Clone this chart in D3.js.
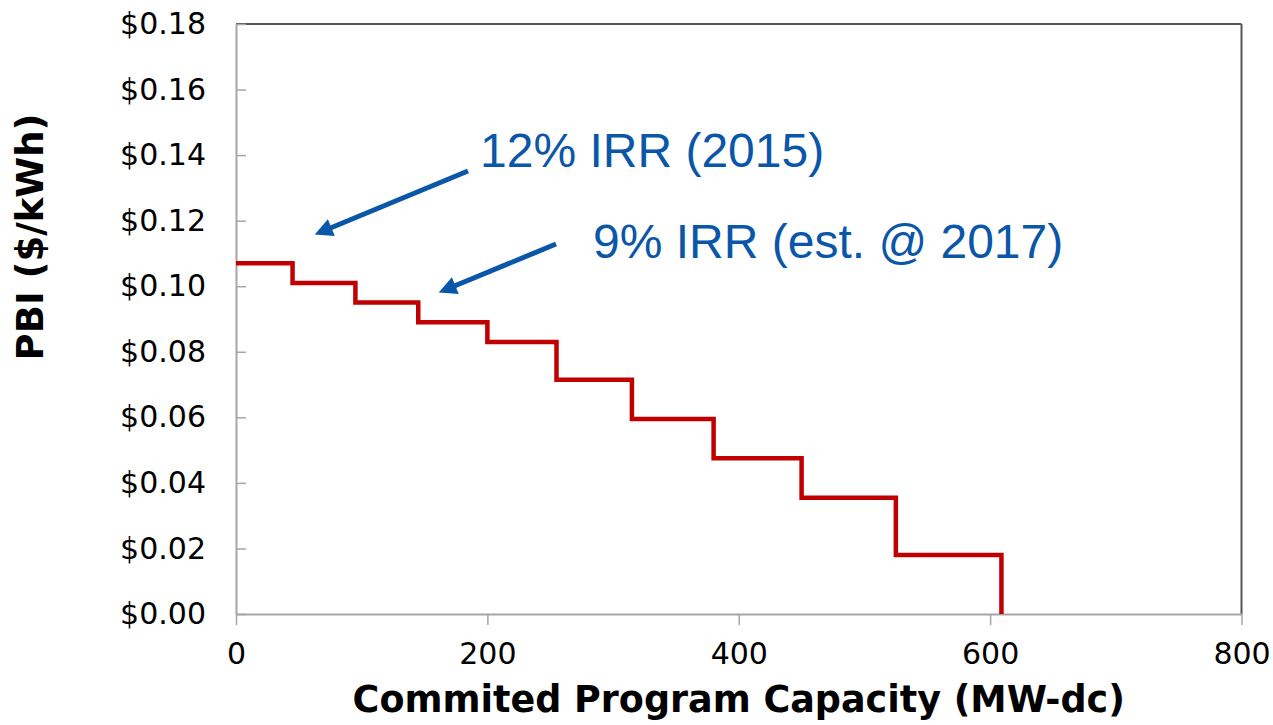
<!DOCTYPE html>
<html>
<head>
<meta charset="utf-8">
<script src="https://cdn.jsdelivr.net/npm/d3@7"></script>
<style>
  body { margin: 0; background: #fff; }
</style>
</head>
<body>
<script>
// step data: capacity where each PBI level starts
var capacity = [0, 45, 95, 145, 200, 255, 315, 380, 450, 525, 609];
var pbi = [0.107, 0.101, 0.095, 0.089, 0.083, 0.0715, 0.0595, 0.0475, 0.0355, 0.018, 0];
var xTicks = [0, 200, 400, 600, 800];
var yTicks = [0, 0.02, 0.04, 0.06, 0.08, 0.10, 0.12, 0.14, 0.16, 0.18];
var notes = ['12% IRR (2015)', '9% IRR (est. @ 2017)'];

var width = 1273;
var height = 725;
var plotLeft = 236, plotRight = 1241.5, plotTop = 24, plotBottom = 614;
var blue = '#0a56a8';

var svg = d3.select('body')
  .append('svg')
  .attr('width', width)
  .attr('height', height);

var xScale = d3.scaleLinear().domain([0, 800]).range([plotLeft, plotRight]);
var yScale = d3.scaleLinear().domain([0, 0.18]).range([plotBottom, plotTop]);

// frame: top and right darker
svg.append('line')
  .attr('x1', plotLeft).attr('x2', plotRight)
  .attr('y1', plotTop).attr('y2', plotTop)
  .attr('stroke', '#555').attr('stroke-width', 2);
svg.append('line')
  .attr('x1', plotRight).attr('x2', plotRight)
  .attr('y1', plotTop).attr('y2', plotBottom)
  .attr('stroke', '#555').attr('stroke-width', 2);

var xAxis = d3.axisBottom(xScale)
  .tickValues(xTicks)
  .tickSize(11)
  .tickPadding(10)
  .tickSizeOuter(0);

var yAxis = d3.axisLeft(yScale)
  .tickValues(yTicks)
  .tickSize(-10)
  .tickPadding(30)
  .tickSizeOuter(0)
  .tickFormat(function(d) { return '$' + d.toFixed(2); });

var gx = svg.append('g')
  .attr('transform', 'translate(0,' + plotBottom + ')')
  .call(xAxis);

var gy = svg.append('g')
  .attr('transform', 'translate(' + plotLeft + ',0)')
  .call(yAxis);

[gx, gy].forEach(function(g) {
  g.select('.domain').attr('stroke', '#a6a6a6').attr('stroke-width', 2);
  g.selectAll('.tick line').attr('stroke', '#a6a6a6').attr('stroke-width', 1.5);
  g.selectAll('.tick text')
    .attr('fill', '#000')
    .attr('font-family', 'DejaVu Sans, Verdana, sans-serif')
    .attr('font-size', '30px');
});
gx.selectAll('.tick text').attr('dy', '0.95em');

// step line
var line = d3.line()
  .x(function(d, i) { return xScale(capacity[i]); })
  .y(function(d) { return yScale(d); })
  .curve(d3.curveStepAfter);

svg.append('path')
  .datum(pbi)
  .attr('d', line)
  .attr('fill', 'none')
  .attr('stroke', '#c00000')
  .attr('stroke-width', 4.5);

// axis titles
svg.append('text')
  .text('Commited Program Capacity (MW-dc)')
  .attr('x', (plotLeft + plotRight) / 2)
  .attr('y', 712)
  .attr('text-anchor', 'middle')
  .attr('font-family', 'DejaVu Sans, Verdana, sans-serif')
  .attr('font-weight', 'bold')
  .attr('font-size', '36.5px');

svg.append('text')
  .text('PBI ($/kWh)')
  .attr('transform', 'translate(43,237) rotate(-90)')
  .attr('text-anchor', 'middle')
  .attr('font-family', 'DejaVu Sans, Verdana, sans-serif')
  .attr('font-weight', 'bold')
  .attr('font-size', '37px');

// annotations
svg.append('defs').append('marker')
  .attr('id', 'head')
  .attr('viewBox', '0 0 10 10')
  .attr('refX', 2).attr('refY', 5)
  .attr('markerWidth', 4).attr('markerHeight', 3.6)
  .attr('orient', 'auto')
  .append('path')
  .attr('d', 'M0,0 L10,5 L0,10 z')
  .attr('fill', blue);

var arrows = [
  { x1: 468, y1: 171, x2: 328, y2: 229 },
  { x1: 556, y1: 244, x2: 452, y2: 287 }
];

svg.selectAll('line.arrow')
  .data(arrows)
  .enter()
  .append('line')
  .attr('class', 'arrow')
  .attr('x1', function(d) { return d.x1; })
  .attr('y1', function(d) { return d.y1; })
  .attr('x2', function(d) { return d.x2; })
  .attr('y2', function(d) { return d.y2; })
  .attr('stroke', blue)
  .attr('stroke-width', 5)
  .attr('marker-end', 'url(#head)');

svg.selectAll('text.note')
  .data(notes)
  .enter()
  .append('text')
  .attr('class', 'note')
  .text(function(d) { return d; })
  .attr('x', function(d, i) { return i === 0 ? 480 : 593; })
  .attr('y', function(d, i) { return i === 0 ? 167 : 258; })
  .attr('font-family', 'Liberation Sans, Arial, sans-serif')
  .attr('font-size', '48px')
  .attr('fill', blue);
</script>
</body>
</html>
